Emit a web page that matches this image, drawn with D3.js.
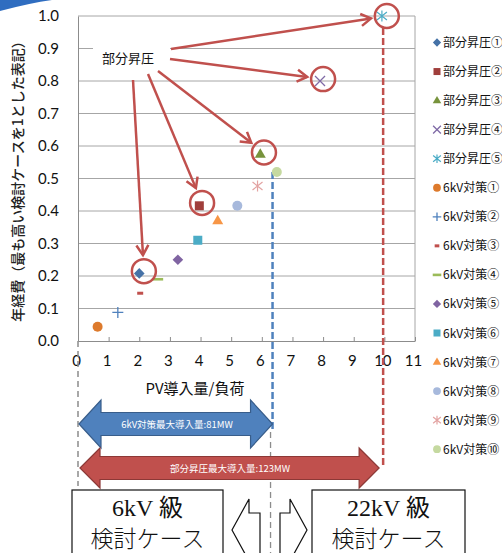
<!DOCTYPE html>
<html><head><meta charset="utf-8">
<script src="https://cdn.jsdelivr.net/npm/d3@7"></script>
<style>body{margin:0;background:#fff}svg{display:block}</style>
</head><body>
<script>
// ---- data ----
const seriesNames = ["部分昇圧①","部分昇圧②","部分昇圧③","部分昇圧④","部分昇圧⑤",
  "6kV対策①","6kV対策②","6kV対策③","6kV対策④","6kV対策⑤","6kV対策⑥","6kV対策⑦","6kV対策⑧","6kV対策⑨","6kV対策⑩"];
const xValues = [2.0, 3.96, 5.95, 7.9, 9.92, 0.64, 1.3, 2.03, 2.6, 3.26, 3.91, 4.56, 5.2, 5.86, 6.49];
const yValues = [0.208, 0.416, 0.575, 0.80, 1.0, 0.044, 0.088, 0.147, 0.19, 0.25, 0.31, 0.37, 0.416, 0.477, 0.52];
const markerTypes = ["diamond","square","triangle","x","asterisk","circle","plus","dashShort","dashLong","diamond","square","triangle","circle","asterisk","circle"];
const colors = ["#4572A7","#A03E3B","#77933C","#7F6AA6","#4BACC6","#DD7A2C","#4F81BD","#C0504D","#9BBB59","#8064A2","#4BACC6","#F79646","#A7B9DC","#E3A3A2","#C5D9A0"];
const xTicks = [0,1,2,3,4,5,6,7,8,9,10,11];
const yTicks = [0,0.1,0.2,0.3,0.4,0.5,0.6,0.7,0.8,0.9,1.0];
const xTitle = "PV導入量/負荷";
const yTitle = "年経費（最も高い検討ケースを1とした表記）";
const calloutLabel = "部分昇圧";
const calloutTargets = [0,1,2,3,4];          // which series are circled
const circleX = [2.15, 4.05, 6.07, 8.0, 10.08];
const circleY = [0.215, 0.425, 0.58, 0.806, 1.0];
const limit6kV = 6.35, limitBoost = 9.96;   // max PV / load
const arrow6kVLabel = "6kV対策最大導入量:81MW";
const arrowBoostLabel = "部分昇圧最大導入量:123MW";
const caseLeft = ["6kV 級","検討ケース"];
const caseRight = ["22kV 級","検討ケース"];

const W=502,H=553;
const svg=d3.select("body").append("svg").attr("width",W).attr("height",H);
const x=d3.scaleLinear().domain([0,11]).range([78,415]);
const y=d3.scaleLinear().domain([0,1]).range([341,16]);
const numFont="Lato, 'Liberation Sans', sans-serif";
const jpFont="'Noto Sans CJK JP', sans-serif";

// decoration top-left
svg.append("path").attr("d","M0,0 L52,0 Q30,3 0,11 Z").attr("fill","#2F6DC0");

// gridlines
svg.append("g").selectAll("line").data(yTicks.filter(d=>d>0)).join("line")
  .attr("x1",x(0)).attr("x2",x(11)).attr("y1",d=>y(d)).attr("y2",d=>y(d))
  .attr("stroke","#A6A6A6").attr("stroke-width",1);
svg.append("line").attr("x1",x(11)).attr("x2",x(11)).attr("y1",y(1)).attr("y2",y(0)).attr("stroke","#A6A6A6");
// axes
const xAxis=d3.axisBottom(x).tickValues(xTicks).tickSizeInner(-4).tickSizeOuter(0).tickPadding(14).tickFormat(d3.format("d"));
const gx=svg.append("g").attr("transform",`translate(0,${y(0)})`).call(xAxis);
gx.select(".domain").attr("stroke","#8C8C8C");
gx.selectAll(".tick line").attr("stroke","#8C8C8C");
gx.selectAll("text").attr("font-family",numFont).attr("font-size",15).attr("fill","#111").attr("dx",-2);
const yAxis=d3.axisLeft(y).tickValues(yTicks).tickSize(0).tickPadding(19).tickFormat(d3.format(".1f"));
const gy=svg.append("g").attr("transform",`translate(${x(0)},0)`).call(yAxis);
gy.select(".domain").attr("stroke","#8C8C8C");
gy.selectAll("text").attr("font-family",numFont).attr("font-size",15).attr("fill","#111");

// titles
svg.append("text").attr("x",195).attr("y",394).attr("text-anchor","middle")
  .attr("font-family",jpFont).attr("font-size",15).attr("fill","#111").text(xTitle);
svg.append("text").attr("transform","translate(23,178) rotate(-90)").attr("text-anchor","middle")
  .attr("font-family",jpFont).attr("font-size",14).attr("font-weight",500).attr("fill","#222").text(yTitle);

// marker drawing
function drawMarker(g,type,color,s){
  const k=s/9;
  switch(type){
    case "diamond": g.append("path").attr("d",d3.symbol(d3.symbolDiamond2,72*k*k)()).attr("fill",color); break;
    case "square": g.append("rect").attr("x",-4.5*k).attr("y",-4.5*k).attr("width",9*k).attr("height",9*k).attr("fill",color); break;
    case "triangle": g.append("path").attr("d",`M0,${-6*k} L${5.5*k},${3.5*k} L${-5.5*k},${3.5*k} Z`).attr("fill",color); break;
    case "circle": g.append("circle").attr("r",5*k).attr("fill",color); break;
    case "x": g.append("path").attr("d",`M${-5*k},${-5*k}L${5*k},${5*k}M${5*k},${-5*k}L${-5*k},${5*k}`).attr("stroke",color).attr("stroke-width",1.3); break;
    case "asterisk": g.append("path").attr("d",`M${-5*k},${-4*k}L${5*k},${4*k}M${5*k},${-4*k}L${-5*k},${4*k}M0,${-5.5*k}L0,${5.5*k}`).attr("stroke",color).attr("stroke-width",1.2); break;
    case "plus": g.append("path").attr("d",`M${-5.5*k},0L${5.5*k},0M0,${-5.5*k}L0,${5.5*k}`).attr("stroke",color).attr("stroke-width",1.3); break;
    case "dashShort": g.append("rect").attr("x",-3*k).attr("y",-1.5).attr("width",6*k).attr("height",3).attr("fill",color); break;
    case "dashLong": g.append("rect").attr("x",-5.5*k).attr("y",-1.3).attr("width",11*k).attr("height",2.6).attr("fill",color); break;
  }
}

// vertical dashed guide lines
svg.append("line").attr("x1",x(0)).attr("x2",x(0)).attr("y1",y(0)).attr("y2",486)
  .attr("stroke","#8C8C8C").attr("stroke-width",1.5).attr("stroke-dasharray","6,4");
svg.append("line").attr("x1",x(limit6kV)-2).attr("x2",x(limit6kV)-2).attr("y1",432).attr("y2",H)
  .attr("stroke","#8C8C8C").attr("stroke-width",1.3).attr("stroke-dasharray","6,4");
svg.append("line").attr("x1",x(limit6kV)).attr("x2",x(limit6kV)).attr("y1",y(yValues[14])).attr("y2",432)
  .attr("stroke","#4F81BD").attr("stroke-width",2.5).attr("stroke-dasharray","7,3");
svg.append("line").attr("x1",x(limitBoost)).attr("x2",x(limitBoost)).attr("y1",28).attr("y2",465)
  .attr("stroke","#C0504D").attr("stroke-width",2.5).attr("stroke-dasharray","7,3");

// points
seriesNames.forEach((n,i)=>{
  const g=svg.append("g").attr("transform",`translate(${x(xValues[i])},${y(yValues[i])})`);
  drawMarker(g,markerTypes[i],colors[i],9);
});

// callout
svg.append("rect").attr("x",93).attr("y",38).attr("width",77).attr("height",40).attr("fill","#fff");
svg.append("text").attr("x",128).attr("y",63).attr("text-anchor","middle")
  .attr("font-family",jpFont).attr("font-size",13).attr("fill","#111").text(calloutLabel);
const starts=[[171,49],[170,59],[158,71],[148,74],[133,80]];
const red="#C0504D";
calloutTargets.forEach((s,j)=>{
  const cx=x(circleX[j]),cy=y(circleY[j]);
  svg.append("circle").attr("cx",cx).attr("cy",cy).attr("r",12).attr("fill","none").attr("stroke",red).attr("stroke-width",2.5);
});
calloutTargets.forEach((s,j)=>{
  const idx=4-j;
  const cx=x(circleX[idx]),cy=y(circleY[idx]);
  const [sx,sy]=starts[j];
  const dx=cx-sx,dy=cy-sy,L=Math.hypot(dx,dy),ux=dx/L,uy=dy/L;
  const tx=cx-ux*16,ty=cy-uy*16;
  svg.append("line").attr("x1",sx).attr("y1",sy).attr("x2",tx).attr("y2",ty).attr("stroke",red).attr("stroke-width",2.5);
  const hl=10,hw=6;
  const bx=tx-ux*hl,by=ty-uy*hl;
  svg.append("path").attr("d",`M${bx-uy*hw},${by+ux*hw}L${tx},${ty}L${bx+uy*hw},${by-ux*hw}`)
    .attr("fill","none").attr("stroke",red).attr("stroke-width",2.5).attr("stroke-linejoin","miter");
});

// legend
seriesNames.forEach((n,i)=>{
  const ly=42.5+29.05*i;
  const g=svg.append("g").attr("transform",`translate(437,${ly})`);
  drawMarker(g,markerTypes[i],colors[i],7);
  svg.append("text").attr("x",443).attr("y",ly+4.5).attr("font-family",jpFont).attr("font-size",12).attr("fill","#111").text(n);
});

// double arrows
function dblArrow(x0,x1,cy,headLen,headHalf,shaftHalf,fill,stroke){
  const p=[[x0,cy],[x0+headLen,cy-headHalf],[x0+headLen,cy-shaftHalf],[x1-headLen,cy-shaftHalf],[x1-headLen,cy-headHalf],[x1,cy],
           [x1-headLen,cy+headHalf],[x1-headLen,cy+shaftHalf],[x0+headLen,cy+shaftHalf],[x0+headLen,cy+headHalf]];
  svg.append("path").attr("d","M"+p.map(q=>q.join(",")).join("L")+"Z").attr("fill",fill).attr("stroke",stroke).attr("stroke-width",1.2);
}
dblArrow(x(0)+1,x(limit6kV),424,22,24,11.5,"#4F81BD","#385D8A");
svg.append("text").attr("x",177).attr("y",428).attr("text-anchor","middle").attr("font-family",jpFont)
  .attr("font-size",9.5).attr("fill","#fff").text(arrow6kVLabel);
dblArrow(x(0)+2,x(limitBoost)-4,468,20,20,11.5,"#C0504D","#8C3836");
svg.append("text").attr("x",230).attr("y",472).attr("text-anchor","middle").attr("font-family",jpFont)
  .attr("font-size",9.5).attr("fill","#fff").text(arrowBoostLabel);

// case boxes
function caseBox(x0,x1,lines){
  svg.append("rect").attr("x",x0).attr("y",490).attr("width",x1-x0).attr("height",80).attr("fill","#fff").attr("stroke","#111").attr("stroke-width",1.2);
  const cx=(x0+x1)/2;
  svg.append("text").attr("x",cx).attr("y",516).attr("text-anchor","middle").attr("font-family","'Liberation Serif','Noto Sans CJK JP',serif").attr("font-size",24).attr("fill","#111").text(lines[0]);
  svg.append("text").attr("x",cx).attr("y",547).attr("text-anchor","middle").attr("font-family","'Noto Sans CJK JP',serif").attr("font-size",23).attr("font-weight",300).attr("fill","#111").text(lines[1]);
}
caseBox(72,223,caseLeft);
caseBox(312,465,caseRight);
// block arrows (outline)
svg.append("path").attr("d","M260,570 L260,513 L249,513 L249,499 L232,530 L249,561 L249,570")
  .attr("fill","#fff").attr("stroke","#111").attr("stroke-width",1.2);
svg.append("path").attr("d","M280,570 L280,513 L290,513 L290,499 L307,530 L290,561 L290,570")
  .attr("fill","#fff").attr("stroke","#111").attr("stroke-width",1.2);
</script>
</body></html>
